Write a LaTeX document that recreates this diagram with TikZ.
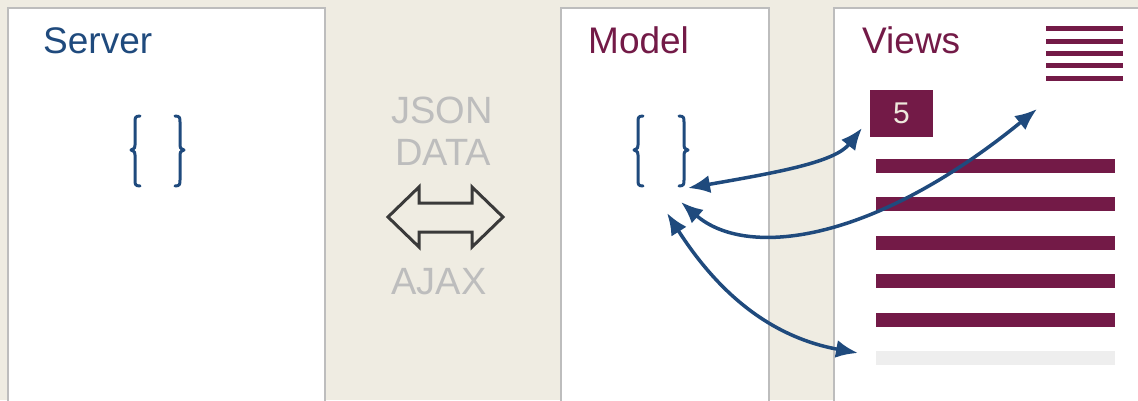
\documentclass[tikz,border=0pt]{standalone}
\usepackage{fontspec}
\setmainfont{Liberation Sans}
\usetikzlibrary{arrows.meta}
\definecolor{bgbeige}{HTML}{EFECE2}
\definecolor{boxline}{HTML}{BDBDBD}
\definecolor{navy}{HTML}{1F4A7D}
\definecolor{maroon}{HTML}{731A47}
\definecolor{lightgraytxt}{HTML}{BDBDBD}
\definecolor{darkarrow}{HTML}{3A3A3A}
\definecolor{barbg}{HTML}{EEEEEE}
\definecolor{fivetxt}{HTML}{EEE8DC}
\tikzset{
  panel/.style={draw=boxline, line width=1.5pt, fill=white},
  title/.style={anchor=base west, inner sep=0pt, font=\fontsize{37}{40}\selectfont},
  midtext/.style={anchor=base, inner sep=0pt, text=lightgraytxt, font=\fontsize{38}{42}\selectfont},
  brace/.style={draw=navy, line width=3pt, line cap=round, line join=round},
  bar/.style={fill=maroon, draw=none},
  link/.style={draw=navy, line width=3.5pt, {Latex[length=22pt,width=18pt]}-{Latex[length=22pt,width=18pt]}},
}
\begin{document}
\begin{tikzpicture}[x=1pt,y=-1pt]
\useasboundingbox (0,0) rectangle (1138,400);
\clip (0,0) rectangle (1138,400);
\fill[bgbeige] (0,0) rectangle (1138,400);
% panels
\draw[panel] (8,8) rectangle (325,410);
\draw[panel] (561,8) rectangle (769,410);
\draw[panel] (834,8) rectangle (1150,410);
% titles
\node[title, text=navy] (server) at (43,53) {Server};
\node[title, text=maroon] (model) at (588,53) {Model};
\node[title, text=maroon] (views) at (862,53) {Views};
% braces server
\draw[brace] (140,116) .. controls (135,116) and (135,118) .. (135,122) -- (135,145) .. controls (135,148) .. (131,150) .. controls (135,152) .. (135,155) -- (135,180) .. controls (135,184) and (135,186) .. (140,186);
\draw[brace] (175,116) .. controls (180,116) and (180,118) .. (180,122) -- (180,145) .. controls (180,148) .. (184,150) .. controls (180,152) .. (180,155) -- (180,180) .. controls (180,184) and (180,186) .. (175,186);
% braces model
\draw[brace] (643,116) .. controls (638,116) and (638,118) .. (638,122) -- (638,145) .. controls (638,148) .. (634,150) .. controls (638,152) .. (638,155) -- (638,180) .. controls (638,184) and (638,186) .. (643,186);
\draw[brace] (679,116) .. controls (684,116) and (684,118) .. (684,122) -- (684,145) .. controls (684,148) .. (688,150) .. controls (684,152) .. (684,155) -- (684,180) .. controls (684,184) and (684,186) .. (679,186);
% middle texts
\node[midtext] (json) at (442,123) {JSON};
\node[midtext] (data) at (443,165) {DATA};
\node[midtext] (ajax) at (439,294) {AJAX};
% double outline arrow
\draw[darkarrow, line width=3pt, line join=miter] (388,217) -- (419,187) -- (419,203) -- (472,203) -- (472,187) -- (503,217) -- (472,247) -- (472,232) -- (419,232) -- (419,247) -- cycle;
% menu icon
\foreach \yy in {28.5,41.5,53.5,65.5,78.5} \fill[maroon] (1046,\yy-2.5) rectangle (1123,\yy+2.5);
% five box
\node[fill=maroon, minimum width=63pt, minimum height=47pt, inner sep=0pt, text=fivetxt, font=\fontsize{30}{32}\selectfont] (five) at (901.5,113.5) {5};
% bars
\foreach \yy in {159,197,236,274,313} \fill[bar] (876,\yy) rectangle (1115,\yy+14);
\fill[barbg] (876,351) rectangle (1115,365);
% arrow endpoints
\coordinate (m1) at (688,188);
\coordinate (m2) at (681,202);
\coordinate (m3) at (667,213);
\coordinate (v1) at (862,128);
\coordinate (v2) at (1037,109);
\coordinate (v3) at (858,353);
\draw[link] (m1) .. controls (780,172) and (835,162) .. (v1);
\draw[link] (m2) .. controls (745,258) and (870,245) .. (v2);
\draw[link] (m3) .. controls (710,280) and (760,335) .. (v3);
\end{tikzpicture}
\end{document}
